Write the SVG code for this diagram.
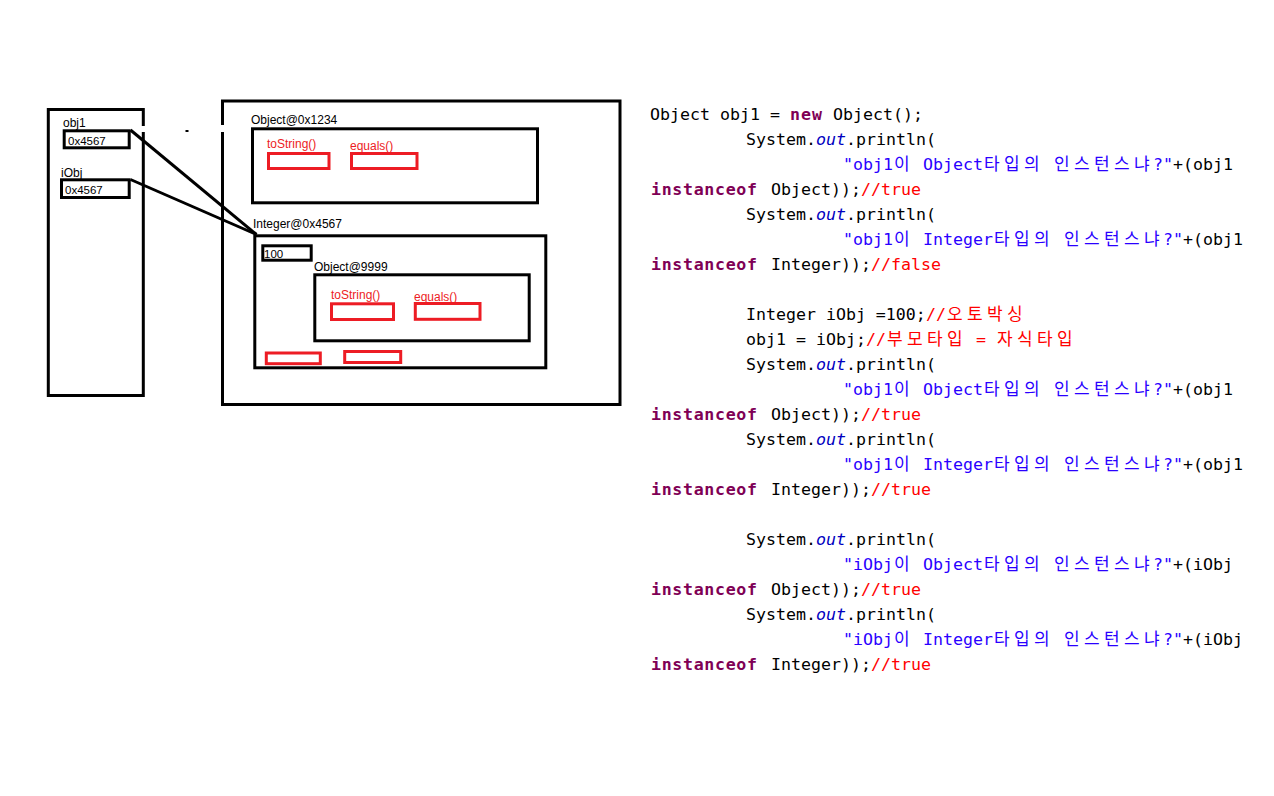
<svg xmlns="http://www.w3.org/2000/svg" width="1274" height="796" viewBox="0 0 1274 796">
<style>
.bx{fill:none;stroke:#000;stroke-width:3}
.rd{fill:none;stroke:#ed1c24;stroke-width:3}
.lb{font-family:"Liberation Sans",Arial,sans-serif;font-size:12px;fill:#000}
.hx{font-family:"Liberation Sans",Arial,sans-serif;font-size:11.5px;fill:#000}
.rl{font-family:"Liberation Sans",Arial,sans-serif;font-size:12px;fill:#ed1c24}
.c{font-family:"DejaVu Sans Mono","Liberation Mono",monospace;font-size:16.6px;fill:#000}
.k{font-weight:bold;fill:#7f0055}
.s{fill:#2a00ff}
.o{font-style:italic;fill:#0000c0}
.r{fill:#ff0000}
.kr{font-family:"Noto Sans CJK KR","Noto Sans CJK SC",sans-serif;font-size:17px}
.ln{stroke:#000;stroke-width:3;fill:none}
</style>
<rect width="1274" height="796" fill="#fff"/>

<g id="stack">
  <rect class="bx" x="48.3" y="109.5" width="95" height="286"/>
  <rect x="141" y="126" width="6" height="6" fill="#fff"/>
  <text class="lb" x="63" y="127">obj1</text>
  <rect class="bx" x="64.2" y="130.8" width="65" height="17"/>
  <text class="hx" x="68" y="145">0x4567</text>
  <text class="lb" x="61" y="177">iObj</text>
  <rect class="bx" x="61.5" y="179.8" width="67.7" height="17.7"/>
  <text class="hx" x="65" y="194">0x4567</text>
</g>

<g id="heap">
  <rect class="bx" x="222.5" y="101" width="397.5" height="303.5"/>
  <rect x="219" y="125" width="7" height="7" fill="#fff"/>
  <rect x="185.5" y="130" width="3" height="2" fill="#000"/>
</g>

<g id="object1234">
  <text class="lb" x="251" y="124">Object@0x1234</text>
  <rect class="bx" x="252.5" y="128.8" width="285" height="74"/>
  <text class="rl" x="267" y="148">toString()</text>
  <rect class="rd" x="268.5" y="153.5" width="60.5" height="15"/>
  <text class="rl" x="350" y="150">equals()</text>
  <rect class="rd" x="351.5" y="153.5" width="65.5" height="15"/>
</g>

<g id="integer4567">
  <text class="lb" x="253" y="228">Integer@0x4567</text>
  <rect class="bx" x="254.8" y="235.8" width="291" height="132"/>
  <rect class="bx" x="262.8" y="245.8" width="48.4" height="14.4"/>
  <text class="hx" x="264" y="258">100</text>
  <rect class="rd" x="266.3" y="353" width="54" height="10.7"/>
  <rect class="rd" x="344.7" y="351.5" width="56" height="11"/>
</g>

<g id="object9999">
  <text class="lb" x="314" y="271">Object@9999</text>
  <rect class="bx" x="314.8" y="274.8" width="214.4" height="66"/>
  <text class="rl" x="331" y="299">toString()</text>
  <rect class="rd" x="331.5" y="303.8" width="62" height="15.7"/>
  <text class="rl" x="414" y="301">equals()</text>
  <rect class="rd" x="415.3" y="303.5" width="64.7" height="15.8"/>
</g>

<g id="connectors">
  <line class="ln" x1="130.5" y1="130" x2="256.5" y2="234.5"/>
  <line class="ln" x1="130.5" y1="179.5" x2="256.5" y2="234.5"/>
</g>

<g id="code">
  <text class="c" y="120"><tspan x="650">Object obj1 = </tspan><tspan class="k" x="790" textLength="32" lengthAdjust="spacing">new</tspan><tspan x="833">Object();</tspan></text>

  <text class="c" y="145"><tspan x="746">System.</tspan><tspan class="o" x="816">out</tspan><tspan x="846">.println(</tspan></text>
  <text class="c" y="170"><tspan class="s" x="843">"obj1</tspan><tspan class="s kr" x="894">이</tspan><tspan class="s" x="923">Object</tspan><tspan class="s kr" x="984 1004 1024">타입의</tspan><tspan class="s kr" x="1054 1074 1094 1114 1134">인스턴스냐</tspan><tspan class="s" x="1153">?"</tspan><tspan x="1173">+(obj1</tspan></text>
  <text class="c" y="195"><tspan class="k" x="651" textLength="106" lengthAdjust="spacing">instanceof</tspan><tspan x="771">Object));</tspan><tspan class="r" x="861">//true</tspan></text>

  <text class="c" y="220"><tspan x="746">System.</tspan><tspan class="o" x="816">out</tspan><tspan x="846">.println(</tspan></text>
  <text class="c" y="245"><tspan class="s" x="843">"obj1</tspan><tspan class="s kr" x="894">이</tspan><tspan class="s" x="923">Integer</tspan><tspan class="s kr" x="994 1014 1034">타입의</tspan><tspan class="s kr" x="1064 1084 1104 1124 1144">인스턴스냐</tspan><tspan class="s" x="1163">?"</tspan><tspan x="1183">+(obj1</tspan></text>
  <text class="c" y="270"><tspan class="k" x="651" textLength="106" lengthAdjust="spacing">instanceof</tspan><tspan x="771">Integer));</tspan><tspan class="r" x="871">//false</tspan></text>

  <text class="c" y="320"><tspan x="746">Integer iObj =100;</tspan><tspan class="r" x="926">//</tspan><tspan class="r kr" x="947 967 987 1007">오토박싱</tspan></text>
  <text class="c" y="345"><tspan x="746">obj1 = iObj;</tspan><tspan class="r" x="866">//</tspan><tspan class="r kr" x="887 907 927 947">부모타입</tspan><tspan class="r" x="976">=</tspan><tspan class="r kr" x="997 1017 1037 1057">자식타입</tspan></text>

  <text class="c" y="370"><tspan x="746">System.</tspan><tspan class="o" x="816">out</tspan><tspan x="846">.println(</tspan></text>
  <text class="c" y="395"><tspan class="s" x="843">"obj1</tspan><tspan class="s kr" x="894">이</tspan><tspan class="s" x="923">Object</tspan><tspan class="s kr" x="984 1004 1024">타입의</tspan><tspan class="s kr" x="1054 1074 1094 1114 1134">인스턴스냐</tspan><tspan class="s" x="1153">?"</tspan><tspan x="1173">+(obj1</tspan></text>
  <text class="c" y="420"><tspan class="k" x="651" textLength="106" lengthAdjust="spacing">instanceof</tspan><tspan x="771">Object));</tspan><tspan class="r" x="861">//true</tspan></text>

  <text class="c" y="445"><tspan x="746">System.</tspan><tspan class="o" x="816">out</tspan><tspan x="846">.println(</tspan></text>
  <text class="c" y="470"><tspan class="s" x="843">"obj1</tspan><tspan class="s kr" x="894">이</tspan><tspan class="s" x="923">Integer</tspan><tspan class="s kr" x="994 1014 1034">타입의</tspan><tspan class="s kr" x="1064 1084 1104 1124 1144">인스턴스냐</tspan><tspan class="s" x="1163">?"</tspan><tspan x="1183">+(obj1</tspan></text>
  <text class="c" y="495"><tspan class="k" x="651" textLength="106" lengthAdjust="spacing">instanceof</tspan><tspan x="771">Integer));</tspan><tspan class="r" x="871">//true</tspan></text>

  <text class="c" y="545"><tspan x="746">System.</tspan><tspan class="o" x="816">out</tspan><tspan x="846">.println(</tspan></text>
  <text class="c" y="570"><tspan class="s" x="843">"iObj</tspan><tspan class="s kr" x="894">이</tspan><tspan class="s" x="923">Object</tspan><tspan class="s kr" x="984 1004 1024">타입의</tspan><tspan class="s kr" x="1054 1074 1094 1114 1134">인스턴스냐</tspan><tspan class="s" x="1153">?"</tspan><tspan x="1173">+(iObj</tspan></text>
  <text class="c" y="595"><tspan class="k" x="651" textLength="106" lengthAdjust="spacing">instanceof</tspan><tspan x="771">Object));</tspan><tspan class="r" x="861">//true</tspan></text>

  <text class="c" y="620"><tspan x="746">System.</tspan><tspan class="o" x="816">out</tspan><tspan x="846">.println(</tspan></text>
  <text class="c" y="645"><tspan class="s" x="843">"iObj</tspan><tspan class="s kr" x="894">이</tspan><tspan class="s" x="923">Integer</tspan><tspan class="s kr" x="994 1014 1034">타입의</tspan><tspan class="s kr" x="1064 1084 1104 1124 1144">인스턴스냐</tspan><tspan class="s" x="1163">?"</tspan><tspan x="1183">+(iObj</tspan></text>
  <text class="c" y="670"><tspan class="k" x="651" textLength="106" lengthAdjust="spacing">instanceof</tspan><tspan x="771">Integer));</tspan><tspan class="r" x="871">//true</tspan></text>
</g>
</svg>
